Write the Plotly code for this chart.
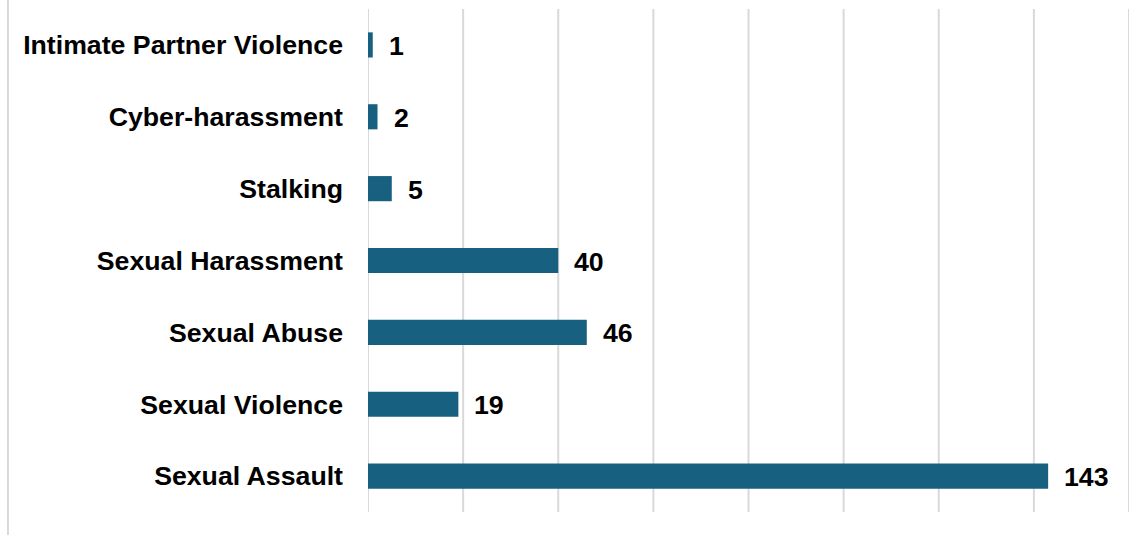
import plotly.graph_objects as go

categories = ["Sexual Assault", "Sexual Violence", "Sexual Abuse", "Sexual Harassment",
              "Stalking", "Cyber-harassment", "Intimate Partner Violence"]
values = [143, 19, 46, 40, 5, 2, 1]
x_ticks = [0, 20, 40, 60, 80, 100, 120, 140, 160]

W, H = 1143, 535
L, R, T, B = 367.5, 13.5, 9, 23
FONT = "Liberation Sans, Arial, sans-serif"
FS = 26.7

fig = go.Figure(go.Bar(
    x=values, y=categories, orientation="h",
    marker=dict(color="#17607F", line=dict(width=0)),
    width=0.35, hoverinfo="skip",
))

for v, c in zip(values, categories):
    fig.add_annotation(x=v, y=c, text=f"<b>{v}</b>", showarrow=False,
                       xanchor="left", yanchor="middle", xshift=14, yshift=-1,
                       font=dict(family=FONT, size=FS, color="#000"))

for t in x_ticks:
    fig.add_shape(type="line", xref="x", yref="paper", x0=t, x1=t, y0=0, y1=1,
                  layer="below", line=dict(color="#D9D9D9", width=2))

plot_w = W - L - R
plot_h = H - T - B
fig.add_shape(type="line", xref="paper", yref="paper",
              x0=-(L - 7) / plot_w, x1=-(L - 7) / plot_w,
              y0=-B / plot_h, y1=1 + T / plot_h,
              line=dict(color="#D9D9D9", width=2))

fig.update_layout(
    width=W, height=H,
    margin=dict(l=L, r=R, t=T, b=B, pad=0),
    paper_bgcolor="white", plot_bgcolor="white",
    showlegend=False,
    xaxis=dict(range=[0, 160], showticklabels=False, showgrid=False,
               zeroline=False, showline=False, fixedrange=True),
    yaxis=dict(categoryorder="array", categoryarray=categories,
               showgrid=False, zeroline=False, showline=False, ticks="",
               ticklabelstandoff=24,
               tickfont=dict(family=FONT, size=FS, color="#000", weight="bold")),
)

fig.write_html("out.html", config={"displayModeBar": False},
               post_script="document.body.style.margin='0';document.body.style.overflow='hidden';")
